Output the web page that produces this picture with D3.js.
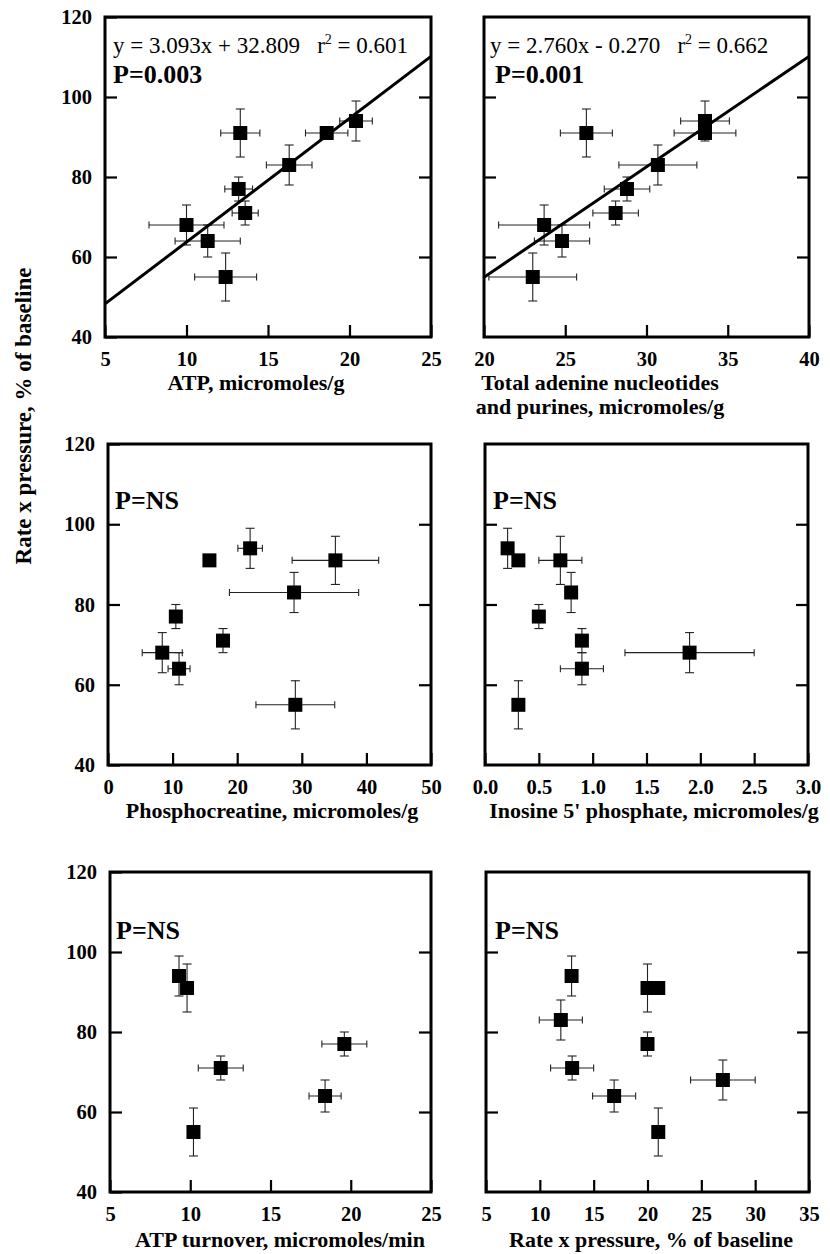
<!DOCTYPE html>
<html><head><meta charset="utf-8">
<script src="https://cdn.jsdelivr.net/npm/d3@7"></script>
<style>body{margin:0;background:#fff} svg{display:block}</style>
</head><body>
<svg id="c" width="830" height="1254"></svg>
<script>
// ---- data (9 subjects, same order in every array) ----
const rpp      = [91, 91, 94, 83, 77, 71, 68, 64, 55];       // y: Rate x pressure, % of baseline
const rppErr   = [6, 0, 5, 5, 3, 3, 5, 4, 6];
const atp      = [13.3, 18.6, 20.4, 16.3, 13.2, 13.6, 10.0, 11.3, 12.4];
const atpErr   = [1.2, 1.3, 1.0, 1.4, 0.85, 0.8, 2.3, 2.0, 1.9];
const tan      = [26.3, 33.6, 33.6, 30.7, 28.8, 28.1, 23.7, 24.8, 23.0];
const tanErr   = [1.6, 1.9, 1.5, 2.4, 1.4, 1.4, 2.8, 1.7, 2.7];
const pcr      = [35.2, 15.7, 22.0, 28.8, 10.5, 17.8, 8.4, 11.0, 29.0];
const pcrErr   = [6.7, 0, 1.9, 10.0, 0, 0, 3.1, 1.7, 6.1];
const imp      = [0.70, 0.31, 0.21, 0.80, 0.50, 0.90, 1.90, 0.90, 0.31];
const impErr   = [0.2, 0, 0, 0, 0, 0, 0.6, 0.2, 0];
const turnover    = [9.8, null, 9.3, null, 19.6, 11.9, null, 18.4, 10.2];
const turnoverErr = [0, 0, 0, 0, 1.4, 1.4, 0, 1.0, 0];
const rpx      = [20.0, 21.0, 12.95, 11.95, 20.0, 13.0, 27.0, 16.9, 21.0];
const rpxErr   = [0, 0, 0, 2, 0, 2, 3, 2, 0];

const yTicks = [40, 60, 80, 100, 120];
const xTicks1 = [5, 10, 15, 20, 25];
const xTicks2 = [20, 25, 30, 35, 40];
const xTicks3 = [0, 10, 20, 30, 40, 50];
const xTicks4 = [0, 0.5, 1.0, 1.5, 2.0, 2.5, 3.0];
const xTicks5 = [5, 10, 15, 20, 25];
const xTicks6 = [5, 10, 15, 20, 25, 30, 35];

const fit1 = {slope: 3.093, intercept: 32.809, r2: "0.601", eq: "y = 3.093x + 32.809   r"};
const fit2 = {slope: 2.760, intercept: -0.270, r2: "0.662", eq: "y = 2.760x - 0.270   r"};

// ---- layout ----
const panels = [
  {x0:105, x1:431, y0:17, y1:337, xt:xTicks1, xs:atp, xe:atpErr, fmt:d3.format("d"), left:true,
   title:["ATP, micromoles/g"], tcx:256, tby:390, fit:fit1, p:"P=0.003", px:113, py:83, ex:113},
  {x0:484, x1:809, y0:17, y1:337, xt:xTicks2, xs:tan, xe:tanErr, fmt:d3.format("d"), left:false,
   title:["Total adenine nucleotides","and purines, micromoles/g"], tcx:600, tby:390, fit:fit2, p:"P=0.001", px:495, py:83, ex:490},
  {x0:108, x1:431, y0:444, y1:765, xt:xTicks3, xs:pcr, xe:pcrErr, fmt:d3.format("d"), left:true,
   title:["Phosphocreatine, micromoles/g"], tcx:272, tby:818, p:"P=NS", px:115, py:509},
  {x0:485, x1:808, y0:444, y1:765, xt:xTicks4, xs:imp, xe:impErr, fmt:d3.format(".1f"), left:false,
   title:["Inosine 5' phosphate, micromoles/g"], tcx:654, tby:818, p:"P=NS", px:493, py:509},
  {x0:110, x1:431, y0:872, y1:1192, xt:xTicks5, xs:turnover, xe:turnoverErr, fmt:d3.format("d"), left:true,
   title:["ATP turnover, micromoles/min"], tcx:280, tby:1247, p:"P=NS", px:116, py:939},
  {x0:486, x1:809, y0:872, y1:1192, xt:xTicks6, xs:rpx, xe:rpxErr, fmt:d3.format("d"), left:false,
   title:["Rate x pressure, % of baseline"], tcx:651, tby:1247, p:"P=NS", px:495, py:939}
];

const FONT = "'Liberation Serif','Times New Roman',serif";
const svg = d3.select("#c");

panels.forEach((P, i) => {
  const x = d3.scaleLinear().domain(d3.extent(P.xt)).range([P.x0, P.x1]);
  const y = d3.scaleLinear().domain(d3.extent(yTicks)).range([P.y1, P.y0]);
  const g = svg.append("g");

  const cid = "clip" + i;
  svg.append("clipPath").attr("id", cid).append("rect")
    .attr("x", P.x0).attr("y", P.y0).attr("width", P.x1 - P.x0).attr("height", P.y1 - P.y0);

  const bx = g.append("g").attr("transform", `translate(0,${P.y1})`)
    .call(d3.axisBottom(x).tickValues(P.xt).tickFormat(P.fmt).tickSizeInner(-12).tickSizeOuter(0).tickPadding(14));
  const lx = g.append("g").attr("transform", `translate(${P.x0},0)`)
    .call(d3.axisLeft(y).tickValues(P.left ? yTicks : yTicks.slice(1, -1))
      .tickFormat(P.left ? d3.format("d") : "").tickSizeInner(-12).tickSizeOuter(0).tickPadding(13));
  const rx = g.append("g").attr("transform", `translate(${P.x1},0)`)
    .call(d3.axisRight(y).tickValues(yTicks.slice(1, -1)).tickFormat("").tickSizeInner(-12).tickSizeOuter(0));
  [bx, lx, rx].forEach(a => {
    a.select(".domain").remove();
    a.selectAll(".tick line").attr("stroke", "#000").attr("stroke-width", 2.2);
    a.selectAll(".tick text").attr("fill", "#000").attr("font-family", FONT)
      .attr("font-weight", "bold").attr("font-size", 20.5);
  });

  const pts = P.xs.map((v, k) => ({x: v, xe: P.xe[k], y: rpp[k], ye: rppErr[k]})).filter(d => d.x != null);
  const eb = g.append("g").attr("stroke", "#222").attr("stroke-width", 1.1).attr("fill", "none");
  pts.forEach(d => {
    const cx = x(d.x), cy = y(d.y);
    if (d.ye > 0) {
      const ya = y(d.y + d.ye), yb = y(d.y - d.ye);
      eb.append("line").attr("x1", cx).attr("x2", cx).attr("y1", ya).attr("y2", yb);
      eb.append("line").attr("x1", cx - 4.5).attr("x2", cx + 4.5).attr("y1", ya).attr("y2", ya);
      eb.append("line").attr("x1", cx - 4.5).attr("x2", cx + 4.5).attr("y1", yb).attr("y2", yb);
    }
    if (d.xe > 0) {
      const xa = x(d.x - d.xe), xb = x(d.x + d.xe);
      eb.append("line").attr("x1", xa).attr("x2", xb).attr("y1", cy).attr("y2", cy);
      eb.append("line").attr("x1", xa).attr("x2", xa).attr("y1", cy - 3.5).attr("y2", cy + 3.5);
      eb.append("line").attr("x1", xb).attr("x2", xb).attr("y1", cy - 3.5).attr("y2", cy + 3.5);
    }
  });
  const S = 14;
  g.append("g").selectAll("rect").data(pts).join("rect")
    .attr("x", d => x(d.x) - S / 2).attr("y", d => y(d.y) - S / 2)
    .attr("width", S).attr("height", S).attr("fill", "#000");

  if (P.fit) {
    const dom = x.domain();
    const line = d3.line().x(d => x(d)).y(d => y(P.fit.slope * d + P.fit.intercept));
    g.append("path").attr("clip-path", `url(#${cid})`).attr("d", line(dom))
      .attr("stroke", "#000").attr("stroke-width", 3).attr("fill", "none");
    const t = g.append("text").attr("x", P.ex).attr("y", 53).attr("font-family", FONT)
      .attr("font-size", 23).attr("fill", "#000").style("white-space", "pre");
    t.append("tspan").text(P.fit.eq);
    t.append("tspan").attr("dy", -9).attr("font-size", 14).text("2");
    t.append("tspan").attr("dy", 9).text(" = " + P.fit.r2);
  }

  g.append("text").attr("x", P.px).attr("y", P.py).attr("font-family", FONT)
    .attr("font-weight", "bold").attr("font-size", 26).attr("fill", "#000").text(P.p);

  g.append("rect").attr("x", P.x0).attr("y", P.y0).attr("width", P.x1 - P.x0).attr("height", P.y1 - P.y0)
    .attr("fill", "none").attr("stroke", "#000").attr("stroke-width", 3);

  P.title.forEach((s, k) => {
    g.append("text").attr("x", P.tcx).attr("y", P.tby + k * 24).attr("text-anchor", "middle")
      .attr("font-family", FONT).attr("font-weight", "bold").attr("font-size", 22).attr("fill", "#000").text(s);
  });
});

svg.append("text").attr("transform", "translate(31,416) rotate(-90)").attr("text-anchor", "middle")
  .attr("font-family", FONT).attr("font-weight", "bold").attr("font-size", 23).attr("fill", "#000")
  .text("Rate x pressure, % of baseline");
</script>
</body></html>
